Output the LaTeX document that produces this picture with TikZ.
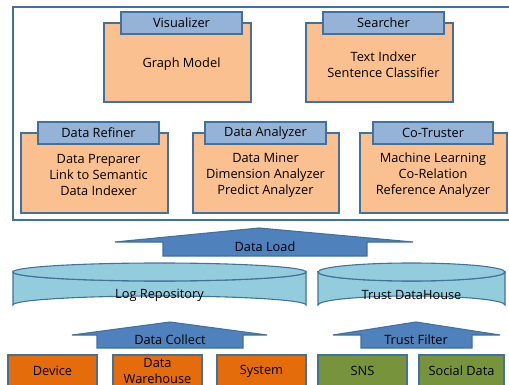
\documentclass[tikz,border=0pt]{standalone}
\usepackage{fontspec}
\setmainfont{Open Sans}
\definecolor{edgeblue}{HTML}{41719C}
\definecolor{bodyorange}{HTML}{FAC090}
\definecolor{tabblue}{HTML}{95B3D7}
\definecolor{repoaqua}{HTML}{93CDDD}
\definecolor{flowblue}{HTML}{4F81BD}
\definecolor{srcorange}{HTML}{E46C0A}
\definecolor{srcgreen}{HTML}{77933C}
\tikzset{
  px/.style={x=1pt,y=-1pt},
  lbl/.style={font=\fontsize{12.8}{16}\selectfont, align=center, text=black, inner sep=0pt},
  edge/.style={draw=edgeblue, line width=1.1pt},
  bodybox/.style={edge, fill=bodyorange},
  tabbox/.style={edge, fill=tabblue},
  repo/.style={edge, fill=repoaqua},
  flow/.style={edge, fill=flowblue},
  srcbox/.style={edge, fill=srcorange},
  greenbox/.style={edge, fill=srcgreen},
}
% module: body rectangle with a header tab on top
% #1 name, #2 body x0, #3 body y0, #4 body x1, #5 body y1, #6 tab x0, #7 tab x1, #8 tab text, #9 body text
\newcommand{\module}[9]{%
  \path[bodybox] (#2,#3) rectangle (#4,#5);
  \path[tabbox] (#6,#3-11) rectangle (#7,#3+11);
  \node[lbl] (#1-tab) at ({(#6+#7)/2},#3) {#8};
  \node[lbl] (#1) at ({(#6+#7)/2},{(#3+11+#5)/2-3.5}) {#9};
}
% cylinder storage: #1 name, #2 x0, #3 x1, #4 top centre y, #5 bottom centre y, #6 text
\newcommand{\storage}[6]{%
  \path[repo] (#2,#4) -- (#2,#5) arc[start angle=180,end angle=360,x radius={(#3-#2)/2},y radius=9] -- (#3,#4) arc[start angle=0,end angle=180,x radius={(#3-#2)/2},y radius=9] -- cycle;
  \path[repo] ({(#2+#3)/2},#4) ellipse[x radius={(#3-#2)/2},y radius=9];
  \node[lbl] (#1) at ({(#2+#3)/2},{(#4+#5)/2+6.5}) {#6};
}
\begin{document}
\begin{tikzpicture}[px]
\useasboundingbox (0,0) rectangle (509,385);
\clip (0,0) rectangle (509,385);

% outer frame of the analysis layer
\path[edge, fill=white] (13,7) rectangle (520,220);

\module{vis}{104}{23}{251}{102}{121}{242}{Visualizer}{Graph Model}
\module{sea}{306}{23}{453}{102}{323}{444}{Searcher}{Text Indxer\\Sentence Classifier}
\module{ref}{21}{133}{168}{213}{38}{159}{Data Refiner}{Data Preparer\\Link to Semantic\\Data Indexer}
\module{ana}{193}{133}{339}{213}{205}{326}{Data Analyzer}{Data Miner\\Dimension Analyzer\\Predict Analyzer}
\module{cot}{360}{133}{507}{213}{373}{493}{Co-Truster}{Machine Learning\\Co-Relation\\Reference Analyzer}

% data load arrow
\path[flow] (115,242) -- (259,228) -- (413,242) -- (367,242) -- (367,256) -- (163,256) -- (163,242) -- cycle;
\node[lbl] (load) at (265,247) {Data Load};

% repositories
\storage{log}{13}{306}{272}{305}{Log Repository}
\storage{trust}{318}{505}{272}{305}{Trust DataHouse}

% collect and filter arrows
\path[flow] (72,335) -- (170,322) -- (267,335) -- (243,335) -- (243,348) -- (97,348) -- (97,335) -- cycle;
\node[lbl] (collect) at (170,340) {Data Collect};
\path[flow] (333,335) -- (416,322) -- (500,335) -- (472,335) -- (472,348) -- (361,348) -- (361,335) -- cycle;
\node[lbl] (filter) at (416,340) {Trust Filter};

% data sources
\path[srcbox] (8,355) rectangle (97,395);
\node[lbl] (dev) at (52.5,371) {Device};
\path[srcbox] (113,355) rectangle (202,395);
\node[lbl] (dw) at (157.5,371) {Data\\Warehouse};
\path[srcbox] (217,355) rectangle (306,395);
\node[lbl] (sys) at (261.5,371) {System};
\path[greenbox] (318,355) rectangle (407,395);
\node[lbl] (sns) at (362.5,371) {SNS};
\path[greenbox] (419,355) rectangle (504,395);
\node[lbl] (soc) at (461.5,371) {Social Data};
\end{tikzpicture}
\end{document}
